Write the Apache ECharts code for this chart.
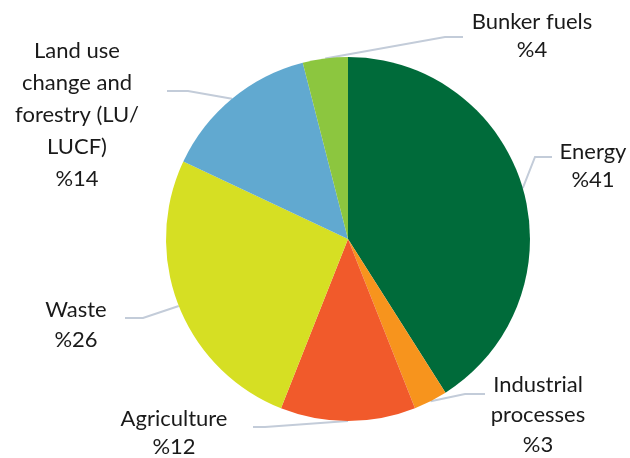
<!DOCTYPE html>
<html>
<head>
<meta charset="utf-8">
<script src="https://cdn.jsdelivr.net/npm/echarts@6/dist/echarts.min.js"></script>
<style>
  html, body { margin: 0; padding: 0; background: #fff; }
  #chart { width: 630px; height: 458px; }
</style>
</head>
<body>
<div id="chart"></div>
<script>
// sectors, clockwise from 12 o'clock
const names = ['Energy', 'Industrial\nprocesses', 'Agriculture', 'Waste', 'Land use\nchange and\nforestry (LU/\nLUCF)', 'Bunker fuels']
const values = [41, 3, 12, 26, 14, 4]
const colors = ['#006b3a', '#f7941d', '#f15a2b', '#d6df23', '#61a9d0', '#8cc63f']

// where each label sits (text centre) and where its leader line bends / ends
const labelPos = [
  { x: 593, y: 166, mx: 535, ex: 552, ly: 157, lh: 28 },
  { x: 538, y: 415, mx: 465, ex: 485, ly: 394, lh: 30 },
  { x: 174, y: 433, mx: 265, ex: 253, ly: 427, lh: 28 },
  { x: 76, y: 325, mx: 143, ex: 125, ly: 318, lh: 30 },
  { x: 77, y: 115, mx: 188, ex: 167, ly: 91, lh: 32 },
  { x: 532, y: 36, mx: 445, ex: 463, ly: 37, lh: 28 },
]

const chart = echarts.init(document.getElementById('chart'))

chart.setOption({
  animation: false,
  series: [
    {
      type: 'pie',
      center: [348, 239],
      radius: 182,
      startAngle: 90,
      clockwise: true,
      data: names.map((n, i) => ({
        name: n,
        value: values[i],
        itemStyle: { color: colors[i] },
        label: { lineHeight: labelPos[i].lh },
      })),
      itemStyle: { borderWidth: 0 },
      label: {
        show: true,
        position: 'outside',
        formatter: '{b}\n%{c}',
        color: '#1a1a1a',
        fontFamily: 'Lato',
        fontSize: 22,
        lineHeight: 30,
        align: 'center',
        overflow: 'none',
      },
      labelLine: {
        show: true,
        length: 15,
        length2: 15,
        lineStyle: { color: '#c3ccd9', width: 2 },
      },
      labelLayout: (params) => {
        const p = labelPos[params.dataIndex]
        const start = params.labelLinePoints ? params.labelLinePoints[0] : [p.mx, p.ly]
        return {
          x: p.x,
          y: p.y,
          align: 'center',
          verticalAlign: 'middle',
          labelLinePoints: [start, [p.mx, p.ly], [p.ex, p.ly]],
        }
      },
    },
  ],
})
</script>
</body>
</html>
